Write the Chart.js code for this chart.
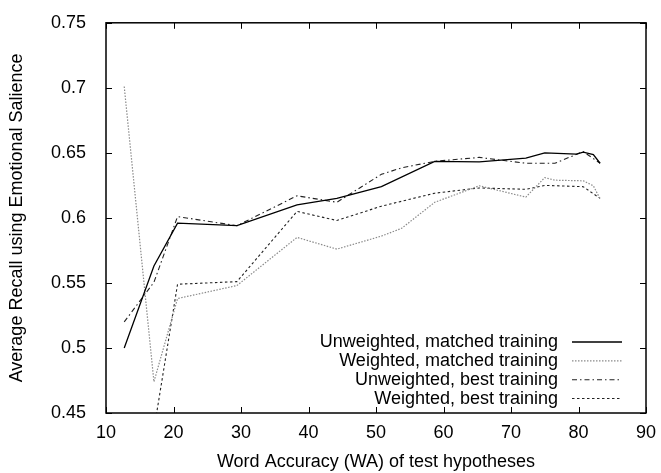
<!DOCTYPE html>
<html>
<head>
<meta charset="utf-8">
<script src="https://cdn.jsdelivr.net/npm/chart.js@4.4.1/dist/chart.umd.min.js"></script>
<style>
  body { margin: 0; background: #fff; }
  #wrap { width: 661px; height: 473px; }
</style>
</head>
<body>
<div id="wrap"><canvas id="chart" width="661" height="473"></canvas></div>
<script>
// Word accuracy values where the curves have points
var wa = [12.7, 17.1, 20.6, 29.4, 38.3, 44.2, 50.8, 53.8, 58.7, 65.3, 72.2, 75.0, 76.5, 79.7, 80.7, 82.2, 83.2];

var unweightedMatched = [0.500, 0.563, 0.596, 0.594, 0.610, 0.615, 0.624, null, 0.6435, 0.643, 0.646, 0.650, null, 0.649, 0.6506, 0.6486, 0.642];
var weightedMatched   = [0.701, 0.474, 0.538, 0.548, 0.585, 0.576, 0.586, 0.592, 0.612, 0.6247, 0.616, 0.631, 0.629, null, 0.6285, 0.6247, 0.6146];
var unweightedBest    = [0.520, 0.5505, 0.601, 0.594, 0.617, 0.612, 0.6335, 0.6385, 0.6435, 0.6465, 0.642, null, 0.642, null, 0.651, null, 0.642];
var weightedBest      = [null, 0.437, 0.549, 0.551, 0.605, 0.598, 0.609, null, 0.619, 0.623, 0.622, 0.625, null, null, 0.624, null, 0.615];

var seriesLabels = ['Unweighted, matched training', 'Weighted, matched training', 'Unweighted, best training', 'Weighted, best training'];

var FONT = '"Liberation Sans", Arial, Helvetica, sans-serif';
var FSIZE = 18;

function points(values) {
    var out = [];
    wa.forEach(function(x, i) {
        if (values[i] !== null) out.push({ x: x, y: values[i] });
    });
    return out;
}

var styles = [
    { color: '#000000', dash: [], width: 1.3 },
    { color: '#8a8a8a', dash: [1.5, 1.5], width: 1.2 },
    { color: '#222222', dash: [5, 3, 1.5, 3], width: 1.1 },
    { color: '#222222', dash: [2.5, 2.5], width: 1.1 }
];

var datasets = [unweightedMatched, weightedMatched, unweightedBest, weightedBest].map(function(vals, i) {
    return {
        label: seriesLabels[i],
        data: points(vals),
        borderColor: styles[i].color,
        borderDash: styles[i].dash,
        borderWidth: styles[i].width,
        pointRadius: 0,
        tension: 0,
        fill: false
    };
});

// frame with inward ticks on all four sides, gnuplot style
var framePlugin = {
    id: 'frame',
    afterDatasetsDraw: function(chart) {
        var ctx = chart.ctx, a = chart.chartArea;
        var xs = chart.scales.x, ys = chart.scales.y;
        ctx.save();
        ctx.strokeStyle = '#000';
        ctx.lineWidth = 1.5;
        ctx.setLineDash([]);
        ctx.strokeRect(a.left, a.top, a.right - a.left, a.bottom - a.top);
        ctx.lineWidth = 1;
        ctx.beginPath();
        xs.ticks.forEach(function(t) {
            var px = Math.round(xs.getPixelForValue(t.value)) + 0.5;
            ctx.moveTo(px, a.bottom); ctx.lineTo(px, a.bottom - 6);
            ctx.moveTo(px, a.top); ctx.lineTo(px, a.top + 6);
        });
        ys.ticks.forEach(function(t) {
            var py = Math.round(ys.getPixelForValue(t.value)) + 0.5;
            ctx.moveTo(a.left, py); ctx.lineTo(a.left + 6, py);
            ctx.moveTo(a.right, py); ctx.lineTo(a.right - 6, py);
        });
        ctx.stroke();
        ctx.restore();
    }
};

// legend inside the plot, text right-aligned with the sample on its right
var keyPlugin = {
    id: 'key',
    afterDatasetsDraw: function(chart) {
        var ctx = chart.ctx;
        ctx.save();
        ctx.font = FSIZE + 'px ' + FONT;
        ctx.textAlign = 'right';
        ctx.textBaseline = 'middle';
        chart.data.datasets.forEach(function(ds, i) {
            var y = 341.5 + i * 18.85;
            ctx.fillStyle = '#000';
            ctx.fillText(ds.label, 558, y + 1);
            ctx.strokeStyle = ds.borderColor;
            ctx.lineWidth = ds.borderWidth;
            ctx.setLineDash(ds.borderDash);
            ctx.beginPath();
            ctx.moveTo(572, y + 0.5);
            ctx.lineTo(622, y + 0.5);
            ctx.stroke();
        });
        ctx.restore();
    }
};

new Chart(document.getElementById('chart'), {
    type: 'line',
    data: { datasets: datasets },
    plugins: [framePlugin, keyPlugin],
    options: {
        responsive: false,
        animation: false,
        layout: { padding: { top: 15, right: 15, left: 0, bottom: 0 } },
        plugins: { legend: { display: false }, tooltip: { enabled: false } },
        scales: {
            x: {
                type: 'linear',
                min: 10, max: 90,
                grid: { display: false },
                border: { display: false },
                ticks: { stepSize: 10, padding: 1, color: '#000', font: { size: FSIZE, family: FONT } },
                title: { display: true, text: 'Word Accuracy (WA) of test hypotheses', color: '#000',
                         font: { size: FSIZE, family: FONT }, padding: { top: 0, bottom: 0 } },
                afterFit: function(s) { s.height = 60; }
            },
            y: {
                min: 0.45, max: 0.75,
                grid: { display: false },
                border: { display: false },
                ticks: { stepSize: 0.05, padding: 12, color: '#000', font: { size: FSIZE, family: FONT },
                         callback: function(v) { return String(+v.toFixed(2)); } },
                title: { display: true, text: 'Average Recall using Emotional Salience', color: '#000',
                         font: { size: FSIZE, family: FONT }, padding: { top: 6, bottom: 0 } },
                afterFit: function(s) { s.width = 106; }
            }
        }
    }
});
</script>
</body>
</html>
